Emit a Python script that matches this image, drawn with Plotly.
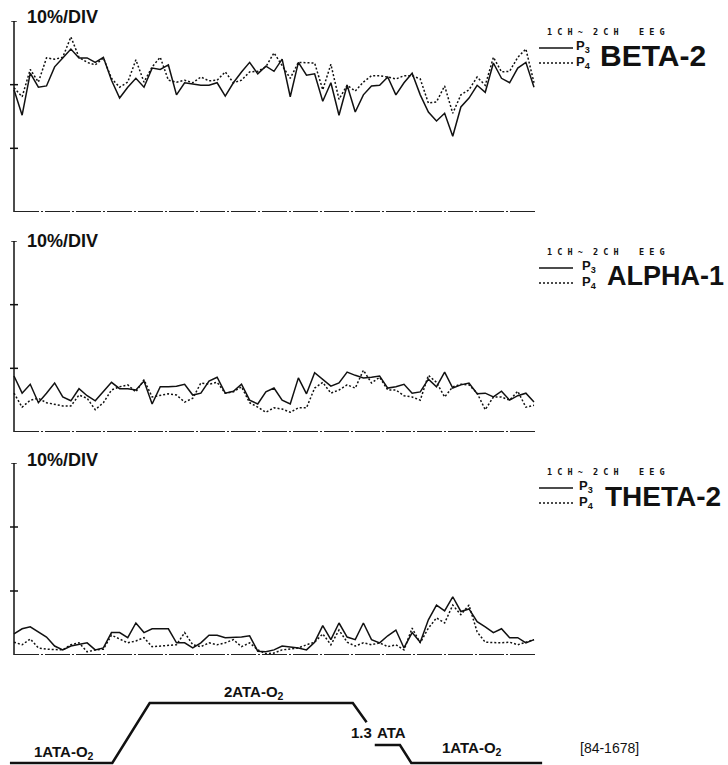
import plotly.graph_objects as go

W, H = 728, 765

# ---- EEG trend data (% power per epoch), 65 epochs ----
epochs = list(range(65))

beta2_p3 = [19.2, 15.2, 21.8, 19.6, 19.8, 22.8, 24.2, 25.6, 24.2, 24.2,
            23.5, 24.3, 20.7, 17.9, 19.6, 21.0, 19.6, 22.6, 22.4, 23.1,
            18.4, 20.3, 20.1, 19.9, 19.9, 20.3, 18.2, 20.3, 22.0, 23.5,
            21.7, 22.9, 22.1, 24.0, 18.1, 23.5, 21.5, 21.7, 17.4, 20.3,
            15.2, 19.9, 15.7, 18.4, 19.8, 19.9, 21.2, 18.4, 20.3, 21.8,
            18.4, 15.7, 14.3, 15.5, 11.9, 16.5, 17.9, 19.9, 18.8, 23.4,
            21.0, 20.3, 22.6, 23.5, 19.6]
beta2_p4 = [19.5, 18.1, 22.4, 20.4, 24.2, 24.0, 24.3, 27.5, 24.3, 23.5,
            23.1, 24.2, 21.0, 19.6, 20.4, 23.9, 20.4, 22.8, 24.3, 20.7,
            20.4, 20.7, 20.3, 21.2, 20.6, 20.7, 22.0, 20.3, 20.7, 22.0,
            22.1, 22.8, 25.0, 23.1, 21.0, 23.5, 23.5, 23.4, 19.2, 23.2,
            17.7, 19.9, 19.0, 20.4, 21.4, 21.4, 21.2, 20.9, 21.4, 21.4,
            20.9, 17.1, 17.3, 19.8, 15.5, 18.4, 19.2, 21.2, 19.9, 24.3,
            22.0, 22.1, 24.3, 25.6, 20.3]

alpha1_p3 = [8.8, 6.1, 7.5, 4.6, 6.1, 7.7, 5.5, 4.9, 6.8, 5.7,
             4.9, 6.4, 7.8, 6.8, 6.8, 6.6, 8.0, 4.4, 7.1, 7.1,
             7.2, 7.5, 5.8, 6.1, 8.0, 8.6, 6.1, 6.4, 7.5, 5.0,
             4.4, 6.3, 6.9, 5.0, 4.4, 8.5, 6.0, 9.3, 8.3, 7.2,
             7.7, 9.4, 8.9, 8.5, 8.6, 8.8, 6.9, 7.1, 7.5, 6.1,
             6.3, 8.3, 7.1, 9.4, 6.9, 7.4, 7.7, 6.0, 6.1, 5.5,
             6.4, 5.0, 5.7, 6.1, 4.7]
alpha1_p4 = [6.1, 3.9, 5.0, 5.3, 4.6, 4.4, 4.1, 4.1, 5.8, 5.3,
             3.5, 4.6, 6.6, 7.1, 7.4, 6.3, 8.2, 5.5, 5.8, 6.0,
             5.8, 4.7, 5.3, 7.7, 7.5, 7.8, 6.1, 6.3, 7.1, 4.6,
             3.9, 3.1, 3.8, 3.6, 3.1, 3.8, 3.8, 6.9, 7.8, 6.1,
             6.6, 7.4, 6.9, 9.7, 7.7, 8.6, 6.6, 6.6, 5.7, 5.5,
             5.0, 8.9, 7.8, 5.5, 7.1, 7.5, 7.4, 6.1, 3.5, 5.5,
             5.5, 5.0, 6.4, 3.9, 4.2]

theta2_p3 = [3.3, 4.1, 4.4, 3.6, 2.8, 1.4, 0.8, 1.4, 1.6, 1.9,
             0.8, 1.1, 3.5, 3.5, 2.7, 5.0, 3.5, 4.1, 4.1, 4.1,
             1.9, 1.9, 1.1, 1.9, 3.1, 3.1, 2.7, 2.7, 2.8, 3.0,
             0.6, 0.5, 0.8, 1.4, 1.3, 1.1, 0.8, 2.0, 4.6, 2.4,
             5.0, 2.8, 2.4, 5.0, 2.4, 1.9, 3.0, 3.9, 1.1, 3.5,
             2.0, 5.5, 7.8, 6.9, 9.1, 6.8, 7.2, 5.2, 4.4, 3.5,
             4.1, 2.7, 2.7, 1.9, 2.4]
theta2_p4 = [2.0, 1.6, 2.5, 1.1, 0.9, 0.8, 0.8, 1.6, 1.9, 0.5,
             0.8, 0.9, 3.1, 2.5, 1.9, 2.2, 2.7, 1.3, 1.4, 1.6,
             1.6, 3.5, 1.6, 1.3, 1.9, 1.6, 1.9, 2.4, 1.3, 1.9,
             0.8, 0.2, 0.3, 0.8, 0.9, 1.1, 1.6, 2.0, 3.3, 1.6,
             3.9, 2.0, 1.4, 1.9, 1.6, 1.9, 1.3, 1.6, 0.8, 4.2,
             1.9, 4.2, 5.8, 5.0, 7.8, 6.3, 7.8, 3.6, 2.0, 1.9,
             1.9, 2.0, 1.6, 2.0, 2.4]

panel_titles = ["BETA-2", "ALPHA-1", "THETA-2"]
scale_text = "10%/DIV"
header_text = "1\u00a0C\u00a0H\u00a0~\u00a0\u00a02\u00a0C\u00a0H\u00a0\u00a0\u00a0\u00a0E\u00a0E\u00a0G"
y_ticks = [10, 20, 30]
y_max = 30

# ---- chamber pressure profile (epoch, ATA) ----
profile_t = [-0.5, 12.1, 16.7, 41.7, 43.4, None, 44.4, 47.5, 48.9, 65.0]
profile_ata = [1.0, 1.0, 2.0, 2.0, 1.68, None, 1.3, 1.3, 1.0, 1.0]
stage_labels = ["1ATA-O<sub>2</sub>", "2ATA-O<sub>2</sub>", "1.3", "ATA",
                "1ATA-O<sub>2</sub>"]
record_id = "[84-1678]"

# ---- geometry helpers ----
PX_PER_EPOCH = 8.125
AXIS_X_PX = 14
x_range = [-AXIS_X_PX / PX_PER_EPOCH, (W - AXIS_X_PX) / PX_PER_EPOCH]
half_tick = 4 / PX_PER_EPOCH


def fx(px):
    return px / W


def fy(py):
    return 1 - py / H


BOLD = "Liberation Sans"
MONO = "DejaVu Sans Mono"

panels = [
    dict(p3=beta2_p3, p4=beta2_p4, top=21, bottom=212, scale_y=17,
         leg=21, p_x=575, t_x=598, t_size=30),
    dict(p3=alpha1_p3, p4=alpha1_p4, top=241, bottom=432, scale_y=241,
         leg=241, p_x=581, t_x=605, t_size=27),
    dict(p3=theta2_p3, p4=theta2_p4, top=463, bottom=655, scale_y=460,
         leg=461, p_x=578, t_x=603, t_size=28),
]

fig = go.Figure()
shapes = []
annotations = []
layout_axes = {}

for k, (pn, title) in enumerate(zip(panels, panel_titles), start=1):
    xa = "x" if k == 1 else f"x{k}"
    ya = "y" if k == 1 else f"y{k}"
    xkey = "xaxis" if k == 1 else f"xaxis{k}"
    ykey = "yaxis" if k == 1 else f"yaxis{k}"
    layout_axes[xkey] = dict(domain=[0, 1], range=x_range, visible=False,
                             fixedrange=True)
    layout_axes[ykey] = dict(domain=[fy(pn["bottom"]), fy(pn["top"])],
                             range=[0, y_max], visible=False, fixedrange=True)

    fig.add_trace(go.Scatter(x=epochs, y=pn["p3"], xaxis=xa, yaxis=ya,
                             mode="lines", showlegend=False,
                             line=dict(color="#111", width=1.5)))
    fig.add_trace(go.Scatter(x=epochs, y=pn["p4"], xaxis=xa, yaxis=ya,
                             mode="lines", showlegend=False,
                             line=dict(color="#111", width=1.5, dash="2px,2px")))

    # vertical scale line with cross ticks
    shapes.append(dict(type="line", xref=xa, yref=ya, x0=0, x1=0, y0=0,
                       y1=y_max, line=dict(color="#111", width=1.5)))
    for t in y_ticks:
        h = half_tick if t < y_max else half_tick * 0.7
        shapes.append(dict(type="line", xref=xa, yref=ya, x0=-h, x1=h,
                           y0=t, y1=t, line=dict(color="#111", width=1.5)))
    # time base line
    shapes.append(dict(type="line", xref=xa, yref=ya, x0=0, x1=epochs[-1] + 0.2,
                       y0=0, y1=0,
                       line=dict(color="#222", width=2, dash="25px,2px,2px,2px")))

    annotations.append(dict(text=f"<b>{scale_text}</b>", xref="paper",
                            yref="paper", x=fx(25), y=fy(pn["scale_y"]),
                            xanchor="left", yanchor="middle", showarrow=False,
                            font=dict(family=BOLD, size=18, color="#111")))

    # channel key
    lg = pn["leg"]
    annotations.append(dict(text=f"<b>{header_text}</b>", xref="paper",
                            yref="paper", x=fx(546), y=fy(lg + 11),
                            xanchor="left", yanchor="middle", showarrow=False,
                            borderpad=0,
                            font=dict(family=MONO, size=8.5, color="#111")))
    shapes.append(dict(type="line", xref="paper", yref="paper", x0=fx(539),
                       x1=fx(573), y0=fy(lg + 27), y1=fy(lg + 27),
                       line=dict(color="#111", width=1.3)))
    shapes.append(dict(type="line", xref="paper", yref="paper", x0=fx(539),
                       x1=fx(573), y0=fy(lg + 42), y1=fy(lg + 42),
                       line=dict(color="#111", width=1.3, dash="2px,2px")))
    annotations.append(dict(text="<b>P<sub>3</sub></b>", xref="paper",
                            yref="paper", x=fx(pn["p_x"]), y=fy(lg + 25),
                            xanchor="left", yanchor="middle", showarrow=False,
                            borderpad=0,
                            font=dict(family=BOLD, size=13, color="#111")))
    annotations.append(dict(text="<b>P<sub>4</sub></b>", xref="paper",
                            yref="paper", x=fx(pn["p_x"]), y=fy(lg + 41),
                            xanchor="left", yanchor="middle", showarrow=False,
                            borderpad=0,
                            font=dict(family=BOLD, size=13, color="#111")))
    annotations.append(dict(text=f"<b>{title}</b>", xref="paper",
                            yref="paper", x=fx(pn["t_x"]), y=fy(lg + 35),
                            xanchor="left", yanchor="middle", showarrow=False,
                            font=dict(family=BOLD, size=pn["t_size"],
                                      color="#111")))

# pressure profile strip: 1 ATA -> y=763 px, 2 ATA -> y=703 px
PX_PER_ATA = 60
strip_bottom_px = H
strip_top_px = 672
ata_lo = 1 - (strip_bottom_px - 763) / PX_PER_ATA
ata_hi = ata_lo + (strip_bottom_px - strip_top_px) / PX_PER_ATA
layout_axes["xaxis4"] = dict(domain=[0, 1], range=x_range, visible=False,
                             fixedrange=True)
layout_axes["yaxis4"] = dict(domain=[0, fy(strip_top_px)],
                             range=[ata_lo, ata_hi], visible=False,
                             fixedrange=True)
fig.add_trace(go.Scatter(x=profile_t, y=profile_ata, xaxis="x4", yaxis="y4",
                         mode="lines", showlegend=False, connectgaps=False,
                         line=dict(color="#111", width=2.5)))

stage_pos = [(32, 752), (222, 692), (349, 732), (375, 732), (440, 748)]
for lab, (px, py) in zip(stage_labels, stage_pos):
    annotations.append(dict(text=f"<b>{lab}</b>", xref="paper", yref="paper",
                            x=fx(px), y=fy(py), xanchor="left",
                            yanchor="middle", showarrow=False,
                            font=dict(family=BOLD, size=15, color="#111")))
annotations.append(dict(text=record_id, xref="paper", yref="paper",
                        x=fx(578), y=fy(748), xanchor="left",
                        yanchor="middle", showarrow=False,
                        font=dict(family=BOLD, size=14, color="#111")))

fig.update_layout(width=W, height=H, margin=dict(l=0, r=0, t=0, b=0),
                  paper_bgcolor="white", plot_bgcolor="rgba(0,0,0,0)",
                  shapes=shapes, annotations=annotations, **layout_axes)

fig.write_html("out.html")
